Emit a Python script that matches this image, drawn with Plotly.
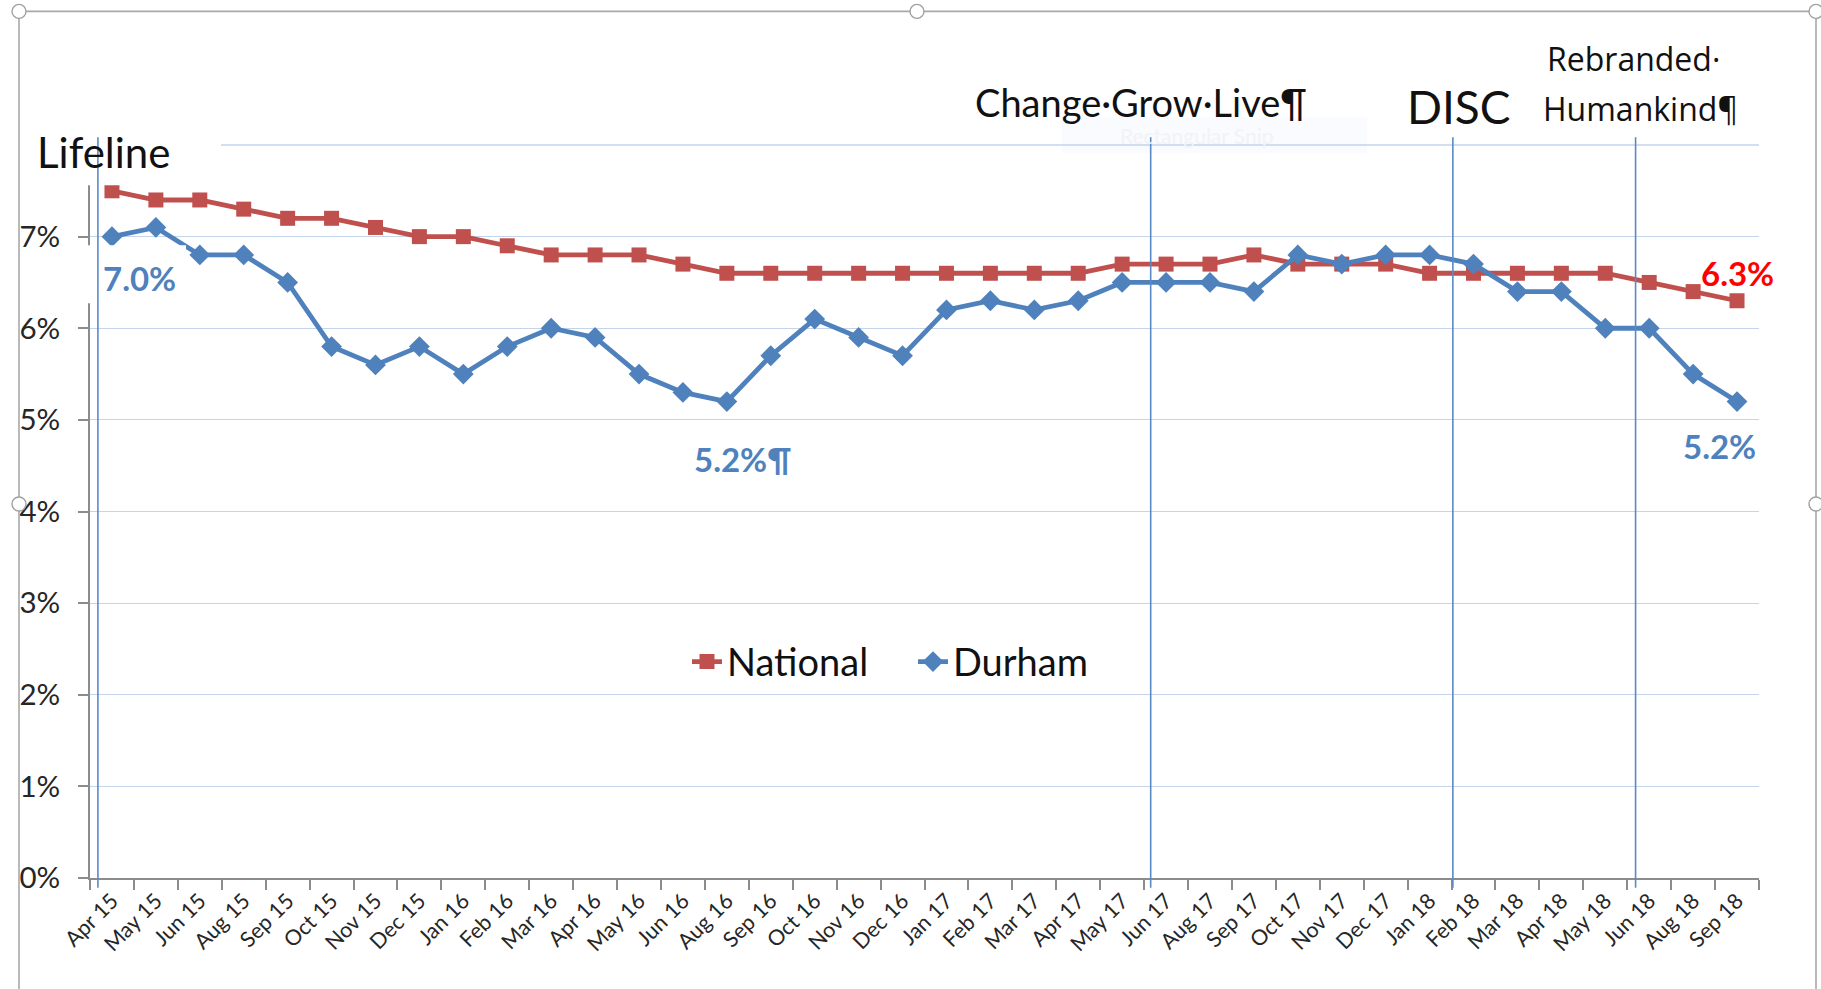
import plotly.graph_objects as go

# ---------------- data ----------------
months = ["Apr 15", "May 15", "Jun 15", "Aug 15", "Sep 15", "Oct 15", "Nov 15", "Dec 15",
          "Jan 16", "Feb 16", "Mar 16", "Apr 16", "May 16", "Jun 16", "Aug 16", "Sep 16",
          "Oct 16", "Nov 16", "Dec 16", "Jan 17", "Feb 17", "Mar 17", "Apr 17", "May 17",
          "Jun 17", "Aug 17", "Sep 17", "Oct 17", "Nov 17", "Dec 17", "Jan 18", "Feb 18",
          "Mar 18", "Apr 18", "May 18", "Jun 18", "Aug 18", "Sep 18"]
national = [7.5, 7.4, 7.4, 7.3, 7.2, 7.2, 7.1, 7.0, 7.0, 6.9, 6.8, 6.8, 6.8, 6.7, 6.6, 6.6,
            6.6, 6.6, 6.6, 6.6, 6.6, 6.6, 6.6, 6.7, 6.7, 6.7, 6.8, 6.7, 6.7, 6.7, 6.6, 6.6,
            6.6, 6.6, 6.6, 6.5, 6.4, 6.3]
durham = [7.0, 7.1, 6.8, 6.8, 6.5, 5.8, 5.6, 5.8, 5.5, 5.8, 6.0, 5.9, 5.5, 5.3, 5.2, 5.7,
          6.1, 5.9, 5.7, 6.2, 6.3, 6.2, 6.3, 6.5, 6.5, 6.5, 6.4, 6.8, 6.7, 6.8, 6.8, 6.7,
          6.4, 6.4, 6.0, 6.0, 5.5, 5.2]
y_ticks = [0, 1, 2, 3, 4, 5, 6, 7, 8]
y_tick_text = ["0%", "1%", "2%", "3%", "4%", "5%", "6%", "7%", ""]
# provider-change markers (category-index positions between months)
event_positions = [-0.32, 23.65, 30.53, 34.69]

RED = "#C0504D"
BLUE = "#4F81BD"
GRID = "#C3D4EB"
AXIS = "#8C8C8C"
FONT = "Lato"

W, H = 1821, 989
PL, PR, PT, PB = 90, 1759, 144.7, 878.3


def px_x(px):
    return (px - PL) / (PR - PL)


def px_y(py):
    return (PB - py) / (PB - PT)


fig = go.Figure()
fig.add_trace(go.Scatter(
    x=months, y=national, name="National", mode="lines+markers",
    line=dict(color=RED, width=4.8),
    marker=dict(symbol="square", size=15, color=RED),
    cliponaxis=False,
))
fig.add_trace(go.Scatter(
    x=months, y=durham, name="Durham", mode="lines+markers",
    line=dict(color=BLUE, width=4.8),
    marker=dict(symbol="diamond", size=16, color=BLUE),
    cliponaxis=False,
))

shapes = []
# faint ghost box of a screen-snip tooltip
shapes.append(dict(type="rect", xref="paper", yref="paper",
                   x0=px_x(1062), x1=px_x(1367), y0=px_y(153), y1=px_y(117),
                   fillcolor="rgba(235,242,252,0.3)", line=dict(width=0), layer="below"))
# top (8%) gridline, starting right of the title box
shapes.append(dict(type="line", xref="paper", yref="paper",
                   x0=px_x(221), x1=1, y0=1, y1=1,
                   line=dict(color=GRID, width=1.4), layer="below"))
# white text-box backgrounds (cover gridline / axis)
shapes.append(dict(type="rect", xref="paper", yref="paper",
                   x0=px_x(70), x1=px_x(221), y0=px_y(185), y1=px_y(120),
                   fillcolor="white", line=dict(width=0), layer="above"))
shapes.append(dict(type="rect", xref="paper", yref="paper",
                   x0=px_x(82), x1=px_x(186), y0=px_y(303), y1=px_y(245),
                   fillcolor="white", line=dict(width=0), layer="above"))
# vertical event lines
for xp in event_positions:
    shapes.append(dict(type="line", xref="x", yref="paper", x0=xp, x1=xp,
                       y0=px_y(888), y1=px_y(137),
                       line=dict(color="#5A8AC6", width=1.6), layer="above"))
# picture frame with handles
shapes.append(dict(type="rect", xref="paper", yref="paper",
                   x0=px_x(19), x1=px_x(1816), y0=px_y(1010), y1=px_y(11),
                   line=dict(color="#A8A8A8", width=1.6), fillcolor="rgba(0,0,0,0)", layer="above"))
for cx, cy in [(19, 11), (917, 11), (1816, 11), (19, 504), (1816, 504)]:
    shapes.append(dict(type="circle", xref="paper", yref="paper",
                       x0=px_x(cx - 7), x1=px_x(cx + 7), y0=px_y(cy + 7), y1=px_y(cy - 7),
                       line=dict(color="#A0A0A0", width=1.4), fillcolor="white", layer="above"))

annotations = []


def txt(text, cx, cy, size, family=FONT, color="#111111", bold=False):
    t = f"<b>{text}</b>" if bold else text
    annotations.append(dict(text=t, xref="paper", yref="paper", x=px_x(cx), y=px_y(cy),
                            xanchor="center", yanchor="middle", showarrow=False,
                            font=dict(family=family, size=size, color=color)))


txt("Lifeline", 103, 152, 42)
txt("Change·Grow·Live¶", 1141, 102, 38)
txt("DISC", 1459, 106, 46)
txt("Rebranded·", 1633, 58, 32, family="Open Sans")
txt("Humankind¶", 1640, 108, 32, family="Open Sans")
txt("Rectangular Snip", 1197, 135, 21, color="#F1F3F7")


# data labels attached to points
def dlabel(text, idx, series, dx, dy, color):
    annotations.append(dict(text=f"<b>{text}</b>", xref="x", yref="y", x=months[idx], y=series[idx],
                            xshift=dx, yshift=dy, showarrow=False,
                            font=dict(family=FONT, size=33, color=color)))


dlabel("7.0%", 0, durham, 28, -41, BLUE)
dlabel("5.2%¶", 14, durham, 16, -57, BLUE)
dlabel("5.2%", 37, durham, -18, -44, BLUE)
dlabel("6.3%", 37, national, 0, 28, "#FF0000")

fig.update_layout(
    width=W, height=H, autosize=False,
    margin=dict(l=PL, r=W - PR, t=PT, b=H - PB),
    paper_bgcolor="white", plot_bgcolor="white",
    font=dict(family=FONT, color="#262626"),
    showlegend=True,
    legend=dict(orientation="h", x=px_x(687), y=px_y(662), xanchor="left", yanchor="middle",
                font=dict(family=FONT, size=38, color="#111111"),
                bgcolor="rgba(0,0,0,0)", entrywidth=181, entrywidthmode="pixels",
                itemsizing="trace"),
    shapes=shapes,
    annotations=annotations,
    xaxis=dict(type="category", range=[-0.5, len(months) - 0.5], tickson="boundaries",
               ticks="outside", ticklen=10, tickcolor=AXIS, tickwidth=1.5,
               showline=True, linecolor=AXIS, linewidth=1.8, showgrid=False, zeroline=False,
               tickangle=-45, tickfont=dict(family=FONT, size=21.5, color="#262626")),
    yaxis=dict(range=[0, 8], tickvals=y_ticks, ticktext=y_tick_text,
               ticks="outside", ticklen=10, tickcolor=AXIS, tickwidth=1.5,
               showline=True, linecolor=AXIS, linewidth=1.8,
               showgrid=True, gridcolor=GRID, gridwidth=1.4, zeroline=False,
               ticklabelstandoff=12,
               tickfont=dict(family=FONT, size=29.5, color="#262626")),
)

fig.write_html("out.html", config={"displayModeBar": False},
               post_script="document.body.style.margin='0px';document.body.style.overflow='hidden';")
